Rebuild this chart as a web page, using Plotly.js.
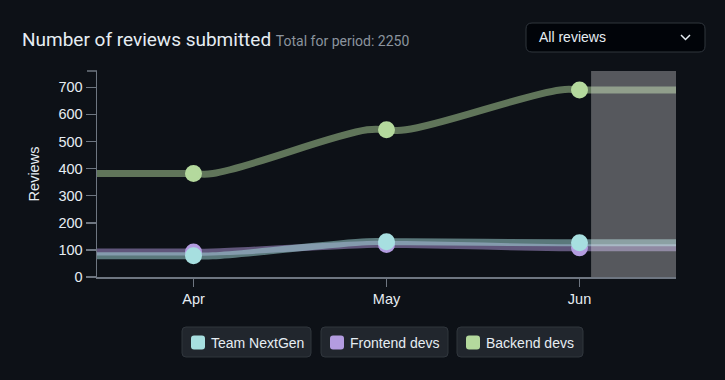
<!DOCTYPE html>
<html>
<head>
<meta charset="utf-8">
<script src="https://cdn.plot.ly/plotly-3.0.1.min.js"></script>
<style>
html,body{margin:0;padding:0;background:#0d1117;}
#chart{width:725px;height:380px;}
</style>
</head>
<body>
<div id="chart"></div>
<script>
// ---- data ----
const months = ['Apr', 'May', 'Jun'];
const seriesNames = ['Team NextGen', 'Frontend devs', 'Backend devs'];
const teamNextGen = [78, 130, 126];
const frontendDevs = [92, 120, 108];
const backendDevs = [382, 543, 690];
const periodTotal = 2250;
const filterLabel = 'All reviews';
const yAxisLabel = 'Reviews';

// ---- style ----
const seriesColors = ['#a7dfe0', '#b39ce0', '#b4d99d'];
const lineColors = ['rgba(167,223,224,0.5)', 'rgba(179,156,224,0.5)', 'rgba(180,217,157,0.5)'];
const seriesValues = [teamNextGen, frontendDevs, backendDevs];

// plot box in pixels
const L = 97, R = 676, T = 71, B = 277;
const X = v => (v - L) / (R - L);
const Y = v => (B - v) / (B - T);
function rr(x0, y0, x1, y1, r) {
  return `M${X(x0 + r)},${Y(y0)} L${X(x1 - r)},${Y(y0)} Q${X(x1)},${Y(y0)} ${X(x1)},${Y(y0 + r)} ` +
    `L${X(x1)},${Y(y1 - r)} Q${X(x1)},${Y(y1)} ${X(x1 - r)},${Y(y1)} L${X(x0 + r)},${Y(y1)} ` +
    `Q${X(x0)},${Y(y1)} ${X(x0)},${Y(y1 - r)} L${X(x0)},${Y(y0 + r)} Q${X(x0)},${Y(y0)} ${X(x0 + r)},${Y(y0)} Z`;
}

const idx = months.map((m, i) => i);
// line path: flat shoulders at each category (horizontal tangents), flat out to both plot edges
const flat = 0.1;
function linePath(vals) {
  const xs = [-0.5], ys = [vals[0]];
  vals.forEach((v, i) => {
    xs.push(i - flat, i, i + flat);
    ys.push(v, v, v);
  });
  xs.push(vals.length - 0.5);
  ys.push(vals[vals.length - 1]);
  return {xs, ys};
}

const traces = [];
// draw order: Backend, Frontend, Team NextGen (on top)
[2, 1, 0].forEach(s => {
  const vals = seriesValues[s];
  const p = linePath(vals);
  traces.push({
    type: 'scatter', mode: 'lines', name: seriesNames[s], hoverinfo: 'skip',
    x: p.xs, y: p.ys,
    line: {shape: 'spline', smoothing: 1.3, width: 7, color: lineColors[s]},
    showlegend: false
  });
  traces.push({
    type: 'scatter', mode: 'markers', name: seriesNames[s],
    x: idx, y: vals, cliponaxis: false,
    marker: {size: 17, color: seriesColors[s], line: {width: 0}},
    showlegend: false
  });
});

const shapes = [
  // highlighted (current) period
  {type: 'rect', xref: 'x', yref: 'paper', x0: 2.06, x1: 2.5, y0: 0, y1: 1,
   fillcolor: 'rgba(255,255,255,0.30)', line: {width: 0}, layer: 'above'},
  // y axis outer tick at top
  {type: 'line', xref: 'paper', yref: 'paper', x0: X(87), x1: X(97), y0: 1, y1: 1,
   line: {color: '#6e7681', width: 1.5}},
  // dropdown
  {type: 'path', xref: 'paper', yref: 'paper', path: rr(526, 23, 705, 52, 6),
   fillcolor: '#010409', line: {color: '#30363d', width: 1}},
  {type: 'path', xref: 'paper', yref: 'paper',
   path: `M${X(681)},${Y(35)} L${X(685.5)},${Y(39.5)} L${X(690)},${Y(35)}`,
   line: {color: '#e6edf3', width: 1.5}}
];

const annotations = [
  {xref: 'paper', yref: 'paper', x: X(20), y: Y(39), xanchor: 'left', yanchor: 'middle', showarrow: false,
   text: 'Number of reviews submitted <span style="font-size:14px;color:#8b949e">Total for period: ' + periodTotal + '</span>',
   font: {family: 'Roboto, Liberation Sans, sans-serif', size: 19, color: '#e6edf3'}},
  {xref: 'paper', yref: 'paper', x: X(537), y: Y(37.5), xanchor: 'left', yanchor: 'middle', showarrow: false,
   text: filterLabel, font: {family: 'Liberation Sans, Arial, sans-serif', size: 14, color: '#e6edf3'}}
];

// legend chips
const chipBoxes = [[182, 311], [321, 448], [457, 583]];
seriesNames.forEach((nm, i) => {
  const [a, b] = chipBoxes[i];
  shapes.push({type: 'path', xref: 'paper', yref: 'paper', path: rr(a, 327, b, 357, 4),
    fillcolor: '#21262d', line: {color: '#30363d', width: 1}});
  shapes.push({type: 'path', xref: 'paper', yref: 'paper', path: rr(a + 9, 335.5, a + 23, 349.5, 3),
    fillcolor: seriesColors[i], line: {width: 0}});
  annotations.push({xref: 'paper', yref: 'paper', x: X(a + 27), y: Y(342.5), xanchor: 'left', yanchor: 'middle',
    showarrow: false, text: nm, font: {family: 'Liberation Sans, Arial, sans-serif', size: 14, color: '#e6edf3'}});
});

const axisCommon = {
  showgrid: false, zeroline: false, showline: true, linecolor: '#6e7681', linewidth: 1.5,
  ticks: 'outside', tickcolor: '#6e7681', tickwidth: 1.5, fixedrange: true,
  tickfont: {family: 'Liberation Sans, Arial, sans-serif', size: 14.5, color: '#e6edf3'}
};

const layout = {
  width: 725, height: 380,
  paper_bgcolor: '#0d1117', plot_bgcolor: '#0d1117',
  margin: {l: L, r: 725 - R, t: T, b: 380 - B},
  showlegend: false,
  font: {family: 'Liberation Sans, Arial, sans-serif', color: '#e6edf3', size: 14},
  xaxis: Object.assign({}, axisCommon, {range: [-0.5, 2.5], tickvals: idx, ticktext: months, ticklen: 8}),
  yaxis: Object.assign({}, axisCommon, {range: [0, 760], tickvals: [0,100,200,300,400,500,600,700], ticklen: 10,
    title: {text: yAxisLabel, standoff: 15, font: {family: 'Liberation Sans, Arial, sans-serif', size: 14.5, color: '#e6edf3'}}}),
  shapes: shapes,
  annotations: annotations
};

Plotly.newPlot('chart', traces, layout, {displayModeBar: false, staticPlot: true});
</script>
</body>
</html>
